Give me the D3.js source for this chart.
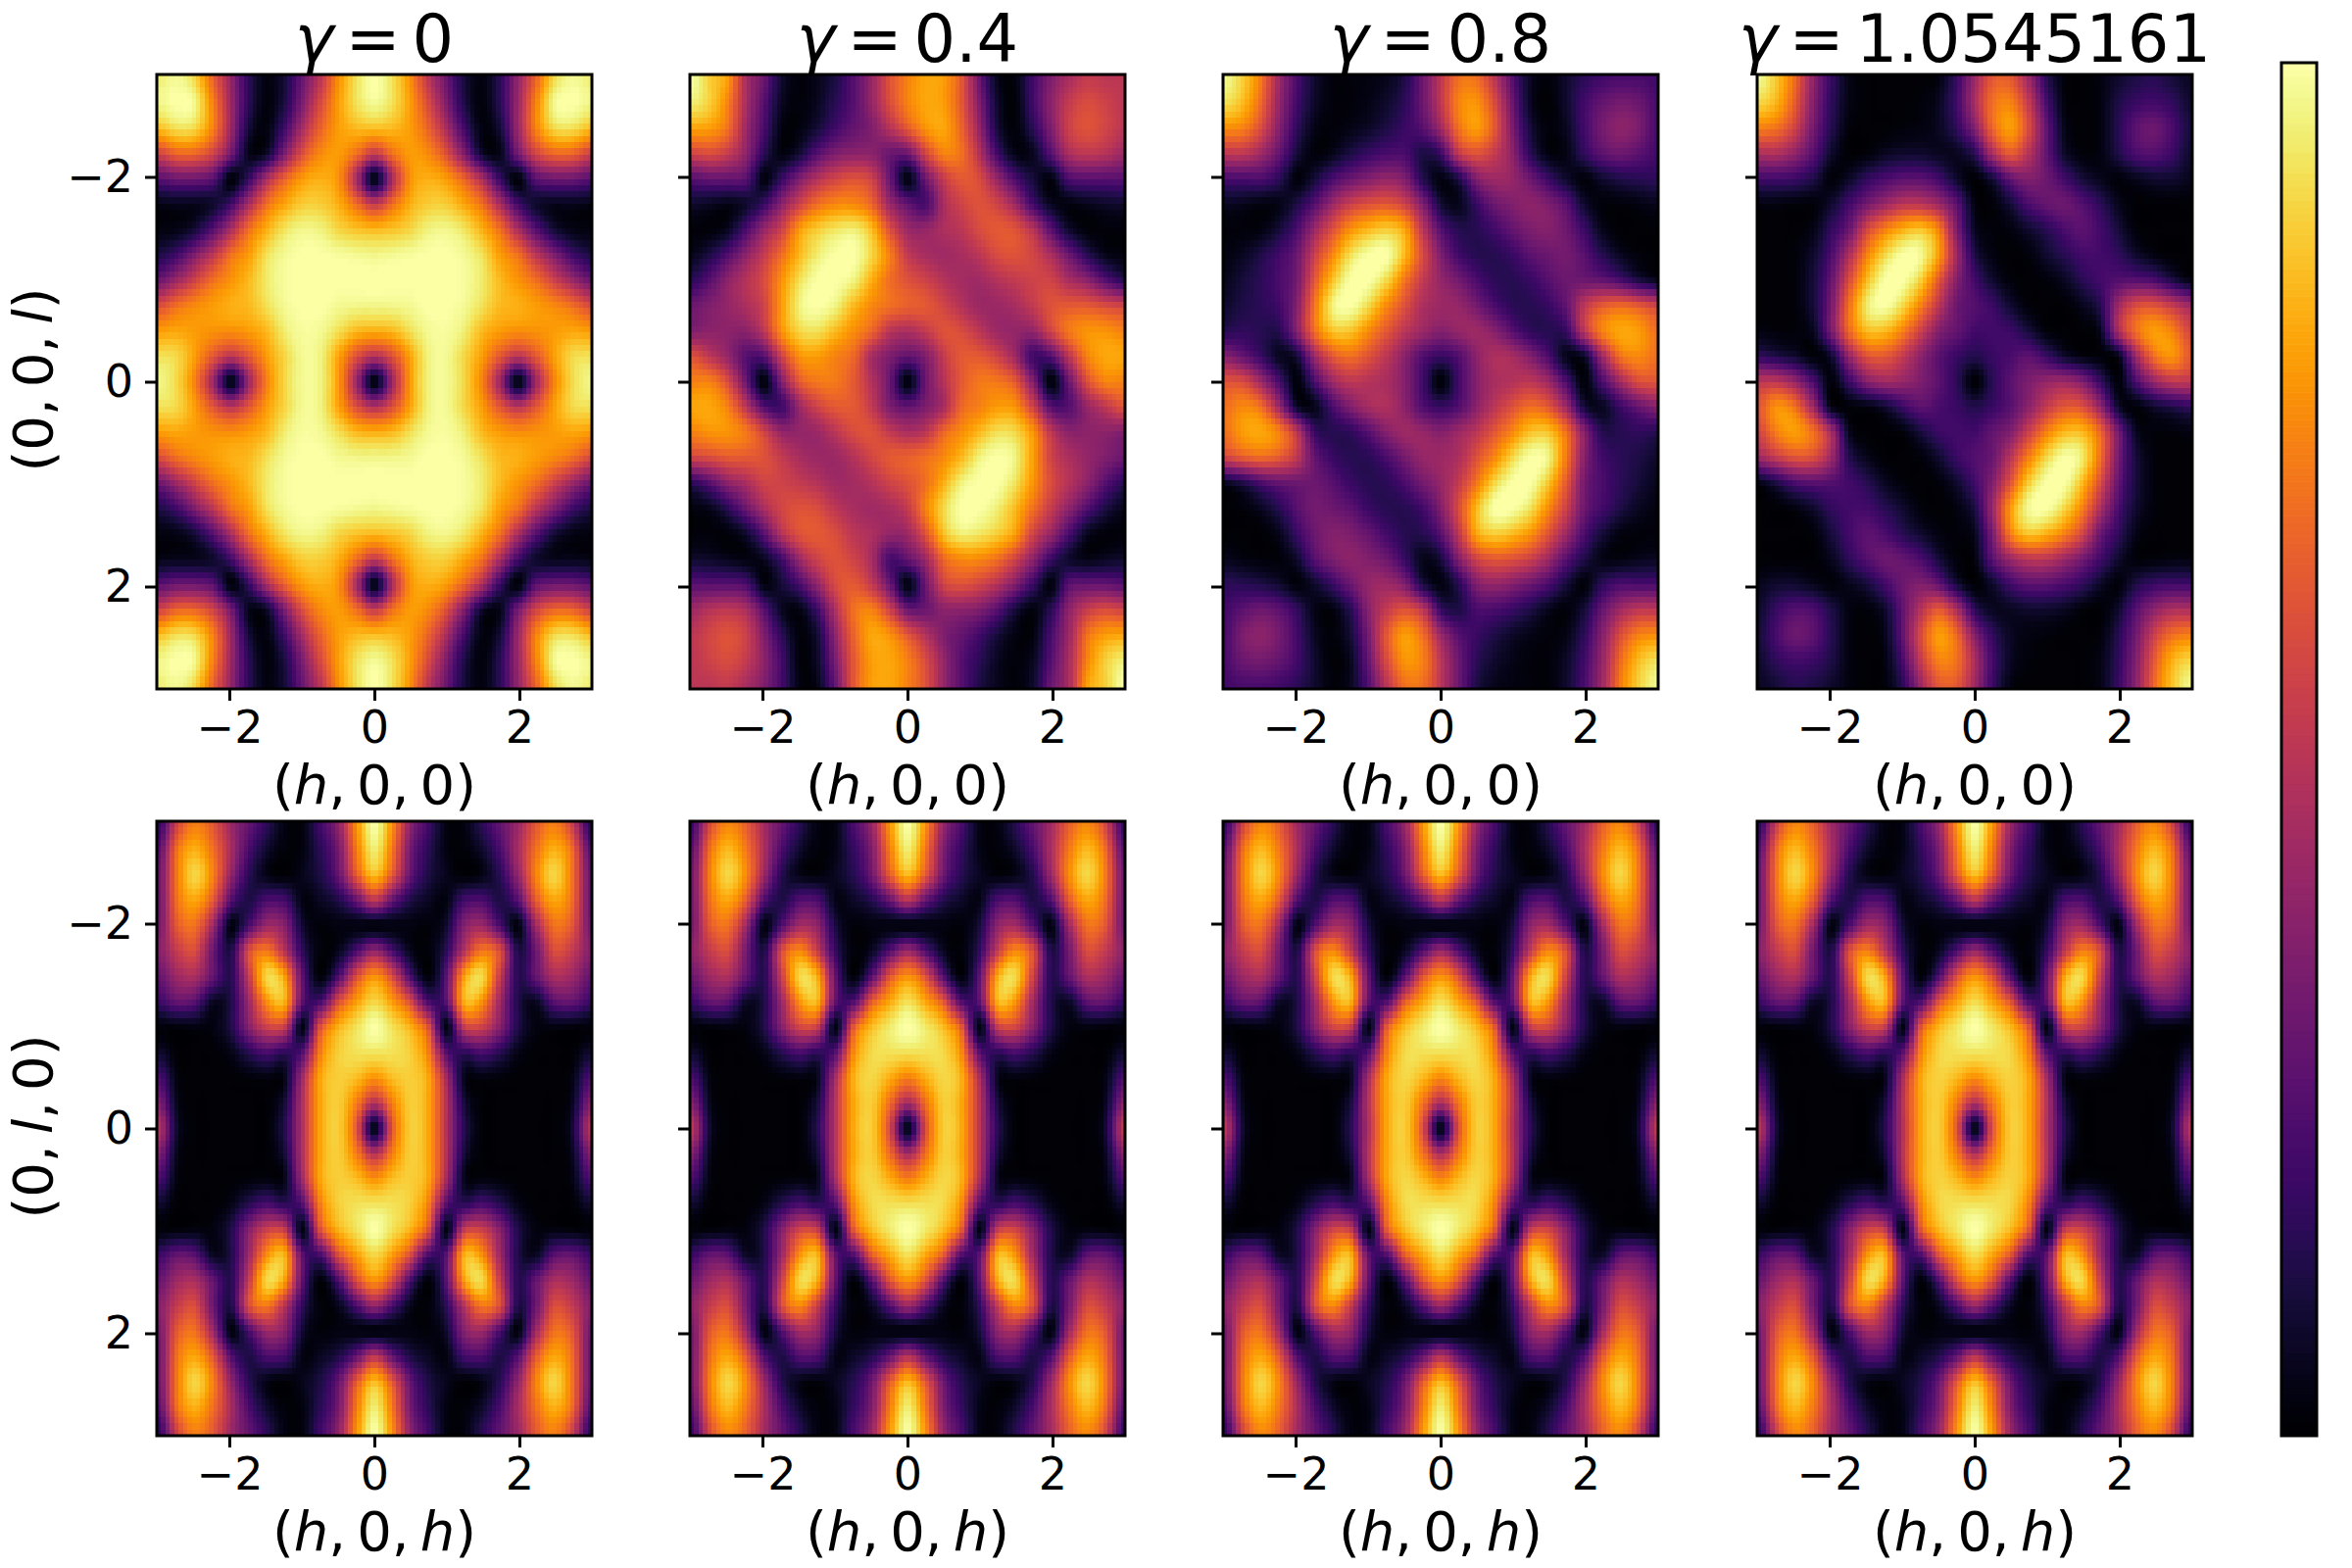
<!DOCTYPE html>
<html><head><meta charset="utf-8">
<script src="https://cdn.jsdelivr.net/npm/d3@7"></script>
<style>html,body{margin:0;background:#fff}svg{display:block}text{font-family:"DejaVu Sans";fill:#000}</style>
</head><body><svg id="fig" width="2400" height="1600"></svg>
<script>
const gammaLabels = ["0","0.4","0.8","1.0545161"];
const xLabelTop = "(h,0,0)";
const xLabelBottom = "(h,0,h)";
const yLabels = ["(0,0,l)","(0,l,0)"];
const tickValues = [-2,0,2];
const gridDomain = [-3,3];

const top0 = [
[95,98,90,65,40,15,3,10,30,50,75,92,100,92,75,50,30,10,3,15,40,65,90,98,95],
[97,100,97,72,42,15,2,12,35,58,78,92,98,92,78,58,35,12,2,15,42,72,97,100,97],
[85,92,90,72,42,10,3,20,45,65,78,84,85,84,78,65,45,20,3,10,42,72,90,92,85],
[55,65,65,55,32,5,8,35,60,74,78,68,52,68,78,74,60,35,8,5,32,55,65,65,55],
[25,30,30,25,2,18,45,65,78,82,76,45,3,45,76,82,78,65,45,18,2,25,30,30,25],
[4,5,5,8,20,45,68,80,88,88,82,68,52,68,82,88,88,80,68,45,20,8,5,5,4],
[3,4,10,25,45,68,82,93,97,96,90,86,84,86,90,96,97,93,82,68,45,25,10,4,3],
[12,20,35,50,68,78,92,98,100,100,99,98,97,98,99,100,100,98,92,78,68,50,35,20,12],
[30,42,55,68,76,84,94,99,100,100,100,100,100,100,100,100,100,99,94,84,76,68,55,42,30],
[58,68,74,78,82,84,92,98,100,100,98,97,97,97,98,100,100,98,92,84,82,78,74,68,58],
[78,80,78,76,75,78,84,95,99,98,92,84,82,84,92,98,99,95,84,78,75,76,78,80,78],
[92,90,78,62,50,62,78,90,98,96,80,60,48,60,80,96,98,90,78,62,50,62,78,90,92],
[97,90,72,42,3,42,72,90,98,96,78,42,2,42,78,96,98,90,72,42,3,42,72,90,97],
[92,90,78,62,50,62,78,90,98,96,80,60,48,60,80,96,98,90,78,62,50,62,78,90,92],
[78,80,78,76,75,78,84,95,99,98,92,84,82,84,92,98,99,95,84,78,75,76,78,80,78],
[58,68,74,78,82,84,92,98,100,100,98,97,97,97,98,100,100,98,92,84,82,78,74,68,58],
[30,42,55,68,76,84,94,99,100,100,100,100,100,100,100,100,100,99,94,84,76,68,55,42,30],
[12,20,35,50,68,78,92,98,100,100,99,98,97,98,99,100,100,98,92,78,68,50,35,20,12],
[3,4,10,25,45,68,82,93,97,96,90,86,84,86,90,96,97,93,82,68,45,25,10,4,3],
[4,5,5,8,20,45,68,80,88,88,82,68,52,68,82,88,88,80,68,45,20,8,5,5,4],
[25,30,30,25,2,18,45,65,78,82,76,45,3,45,76,82,78,65,45,18,2,25,30,30,25],
[55,65,65,55,32,5,8,35,60,74,78,68,52,68,78,74,60,35,8,5,32,55,65,65,55],
[85,92,90,72,42,10,3,20,45,65,78,84,85,84,78,65,45,20,3,10,42,72,90,92,85],
[97,100,97,72,42,15,2,12,35,58,78,92,98,92,78,58,35,12,2,15,42,72,97,100,97],
[95,98,90,65,40,15,3,10,30,50,75,92,100,92,75,50,30,10,3,15,40,65,90,98,95]];

const top1 = [
[100,88,78,45,30,8,2,5,12,25,40,60,72,80,78,62,30,5,3,20,35,45,52,50,50],
[95,88,72,45,25,6,2,6,15,25,40,58,72,80,78,62,35,8,2,20,38,52,58,55,50],
[80,78,68,42,22,3,3,10,20,28,35,48,62,76,80,65,40,10,2,15,35,54,60,56,50],
[55,58,52,38,15,3,10,25,35,38,38,30,30,55,72,68,48,20,4,6,25,45,50,48,42],
[25,28,28,25,3,18,35,48,56,60,55,30,3,30,52,62,58,40,22,10,3,22,25,25,25],
[8,6,4,8,18,38,55,68,74,74,66,42,28,22,45,55,60,55,42,20,6,3,5,7,8],
[2,2,6,22,40,55,78,88,93,95,85,60,42,40,46,50,58,62,60,48,25,8,2,2,2],
[5,12,24,38,52,68,84,95,100,100,90,72,52,45,43,45,50,58,60,56,45,30,15,5,3],
[15,25,38,48,58,76,92,100,100,96,82,68,60,55,48,44,43,48,52,55,55,45,38,25,15],
[30,35,40,46,55,78,96,100,96,84,74,68,64,62,56,48,42,42,45,52,60,62,62,58,55],
[35,38,38,38,50,76,90,92,84,75,66,50,46,52,60,58,50,42,40,40,56,70,76,76,72],
[60,50,40,25,25,55,76,78,72,66,45,35,28,35,52,62,62,55,42,20,25,50,72,80,80],
[72,72,58,30,2,35,62,70,70,62,48,30,2,30,48,62,70,70,62,35,2,30,58,72,72],
[80,80,72,50,25,20,42,55,62,62,52,35,28,35,45,66,72,78,76,55,25,25,40,50,60],
[72,76,76,70,56,40,40,42,50,58,60,52,46,50,66,75,84,92,90,76,50,38,38,38,35],
[55,58,62,62,60,52,45,42,42,48,56,62,64,68,74,84,96,100,96,78,55,46,40,35,30],
[15,25,38,45,55,55,52,48,43,44,48,55,60,68,82,96,100,100,92,76,58,48,38,25,15],
[3,5,15,30,45,56,60,58,50,45,43,45,52,72,90,100,100,95,84,68,52,38,24,12,5],
[2,2,2,8,25,48,60,62,58,50,46,40,42,60,85,95,93,88,78,55,40,22,6,2,2],
[8,7,5,3,6,20,42,55,60,55,45,22,28,42,66,74,74,68,55,38,18,8,4,6,8],
[25,25,25,22,3,10,22,40,58,62,52,30,3,30,55,60,56,48,35,18,3,25,28,28,25],
[42,48,50,45,25,6,4,20,48,68,72,55,30,30,38,38,35,25,10,3,15,38,52,58,55],
[50,56,60,54,35,15,2,10,40,65,80,76,62,48,35,28,20,10,3,3,22,42,68,78,80],
[50,55,58,52,38,20,2,8,35,62,78,80,72,58,40,25,15,6,2,6,25,45,72,88,95],
[50,50,52,45,35,20,3,5,30,62,78,80,72,60,40,25,12,5,2,8,30,45,78,88,100]];

const top2 = [
[98,88,70,42,22,8,2,2,3,5,12,30,50,68,68,50,25,6,2,8,15,20,22,22,20],
[92,84,66,40,20,7,2,2,4,8,15,30,50,72,76,58,30,6,1,8,20,28,32,30,22],
[75,72,58,36,16,4,2,4,7,12,18,25,42,68,78,62,34,10,2,6,20,32,38,34,22],
[50,50,42,28,10,2,5,12,18,22,22,12,18,50,60,52,38,15,3,4,16,26,30,26,20],
[22,22,22,15,2,10,22,30,36,40,35,14,3,12,35,42,40,30,18,8,2,8,12,14,15],
[6,5,3,4,12,25,42,54,60,62,55,35,10,5,18,30,35,38,34,25,8,2,2,3,5],
[2,2,3,10,22,42,60,76,84,88,80,50,25,14,14,20,28,34,36,30,18,5,1,1,1],
[3,6,12,20,30,54,74,92,100,100,84,58,35,20,14,14,18,26,30,32,25,14,6,2,1],
[5,10,15,22,32,62,86,100,100,90,70,52,40,32,22,15,14,18,25,30,30,28,22,12,6],
[8,12,15,20,36,70,96,100,90,74,60,46,42,40,32,22,15,14,18,28,50,62,66,62,55],
[14,16,14,14,36,68,86,86,74,62,50,42,36,40,42,36,25,16,14,18,50,72,80,78,68],
[36,28,18,6,10,42,62,68,60,50,38,24,18,24,38,46,44,35,22,5,8,42,68,74,68],
[60,58,42,22,2,22,42,50,48,45,36,20,1,20,36,45,48,50,42,22,2,22,42,58,60],
[68,74,68,42,8,5,22,35,44,46,38,24,18,24,38,50,60,68,62,42,10,6,18,28,36],
[68,78,80,72,50,18,14,16,25,36,42,40,36,42,50,62,74,86,86,68,36,14,14,16,14],
[55,62,66,62,50,28,18,14,15,22,32,40,42,46,60,74,90,100,96,70,36,20,15,12,8],
[6,12,22,28,30,30,25,18,14,15,22,32,40,52,70,90,100,100,86,62,32,22,15,10,5],
[1,2,6,14,25,32,30,26,18,14,14,20,35,58,84,100,100,92,74,54,30,20,12,6,3],
[1,1,1,5,18,30,36,34,28,20,14,14,25,50,80,88,84,76,60,42,22,10,3,2,2],
[5,3,2,2,8,25,34,38,35,30,18,5,10,35,55,62,60,54,42,25,12,4,3,5,6],
[15,14,12,8,2,8,18,30,40,42,35,12,3,14,35,40,36,30,22,10,2,15,22,22,22],
[20,26,30,26,16,4,3,15,38,52,60,50,18,12,22,22,18,12,5,2,10,28,42,50,50],
[22,34,38,32,20,6,2,10,34,62,78,68,42,25,18,12,7,4,2,4,16,36,58,72,75],
[22,30,32,28,20,8,1,6,30,58,76,72,50,30,15,8,4,2,2,7,20,40,66,84,92],
[20,22,22,20,15,8,2,6,25,50,68,68,50,30,12,5,3,2,2,8,22,42,70,88,98]];

const top3 = [
[98,86,66,38,18,4,1,1,1,1,3,18,42,62,62,42,15,2,1,3,8,12,14,10,6],
[90,82,62,36,16,4,1,1,1,2,6,20,45,68,72,52,22,3,1,3,12,18,20,16,8],
[72,68,54,32,14,2,1,1,2,3,6,16,36,66,78,58,28,5,1,3,14,26,30,22,10],
[46,46,38,25,8,1,2,6,8,8,6,6,15,45,62,48,28,8,2,3,12,22,24,18,8],
[20,20,18,12,2,7,16,22,26,26,20,8,1,10,28,35,30,20,10,5,2,5,8,8,5],
[3,3,2,2,8,20,32,42,50,50,42,26,3,2,10,22,28,30,24,15,5,1,1,1,1],
[1,1,1,4,16,30,56,72,82,86,72,34,6,2,3,8,14,22,26,20,10,2,1,1,1],
[1,1,2,8,22,46,72,90,100,98,78,42,12,3,1,2,8,14,20,20,16,8,3,1,1],
[1,1,2,10,28,58,84,100,100,88,62,36,20,8,2,1,2,6,14,20,24,25,22,12,4],
[1,1,2,10,32,68,94,100,90,72,50,30,24,18,8,2,1,1,5,14,42,58,60,52,42],
[3,2,2,6,32,66,84,84,72,54,36,28,20,20,18,10,2,1,1,6,45,68,78,72,56],
[16,12,8,2,8,40,60,62,52,38,26,18,13,18,22,26,18,8,3,2,5,42,68,76,62],
[50,50,40,22,2,18,35,42,40,34,26,15,1,15,26,34,40,42,35,18,2,22,40,50,50],
[62,76,68,42,5,2,3,8,18,26,22,18,13,18,26,38,52,62,60,40,8,2,8,12,16],
[56,72,78,68,45,6,1,1,2,10,18,20,20,28,36,54,72,84,84,66,32,6,2,2,3],
[42,52,60,58,42,14,5,1,1,2,8,18,24,30,50,72,90,100,94,68,32,10,2,1,1],
[4,12,22,25,24,20,14,6,2,1,2,8,20,36,62,88,100,100,84,58,28,10,2,1,1],
[1,1,3,8,16,20,20,14,8,2,1,3,12,42,78,98,100,90,72,46,22,8,2,1,1],
[1,1,1,2,10,20,26,22,14,8,3,2,6,34,72,86,82,72,56,30,16,4,1,1,1],
[1,1,1,1,5,15,24,30,28,22,10,2,3,26,42,50,50,42,32,20,8,2,2,3,3],
[5,8,8,5,2,5,10,20,30,35,28,10,1,8,20,26,26,22,16,7,2,12,18,20,20],
[8,18,24,22,12,3,2,8,28,48,62,45,15,6,6,8,8,6,2,1,8,25,38,46,46],
[10,22,30,26,14,3,1,5,28,58,78,66,36,16,6,3,2,1,1,2,14,32,54,68,72],
[8,16,20,18,12,3,1,3,22,52,72,68,45,20,6,2,1,1,1,4,16,36,62,82,90],
[6,10,14,12,8,3,1,2,15,42,62,62,42,18,3,1,1,1,1,4,18,38,66,86,98]];

const bottom0 = [
[15,55,72,62,42,28,15,3,3,20,38,75,100,75,38,20,3,3,15,28,42,62,72,55,15],
[25,68,82,68,45,22,8,2,3,15,32,70,95,70,32,15,3,2,8,22,45,68,82,68,25],
[30,70,90,72,40,15,4,1,5,12,28,62,85,62,28,12,5,1,4,15,40,72,90,70,30],
[30,68,80,62,25,12,22,20,3,6,12,28,50,28,12,6,3,20,22,12,25,62,80,68,30],
[32,62,68,42,3,22,42,36,8,2,3,3,2,3,3,2,8,36,42,22,3,42,68,62,32],
[36,52,58,30,12,58,70,48,15,2,5,22,40,22,5,2,15,48,70,58,12,30,58,52,36],
[28,42,45,28,14,52,90,78,25,2,22,58,76,58,22,2,25,78,90,52,14,28,45,42,28],
[18,28,25,6,12,42,75,82,25,22,58,78,90,78,58,22,25,82,75,42,12,6,25,28,18],
[2,2,3,3,12,36,54,52,3,60,82,92,100,92,82,60,3,52,54,36,12,3,3,2,2],
[8,1,1,1,4,14,22,16,25,72,88,92,93,92,88,72,25,16,22,14,4,1,1,1,8],
[22,3,1,1,1,2,3,5,44,80,88,85,76,85,88,80,44,5,3,2,1,1,1,3,22],
[35,5,1,1,1,1,1,10,48,80,88,72,48,72,88,80,48,10,1,1,1,1,1,5,35],
[48,8,1,1,1,1,1,14,48,80,88,62,3,62,88,80,48,14,1,1,1,1,1,8,48],
[35,5,1,1,1,1,1,10,48,80,88,72,48,72,88,80,48,10,1,1,1,1,1,5,35],
[22,3,1,1,1,2,3,5,44,80,88,85,76,85,88,80,44,5,3,2,1,1,1,3,22],
[8,1,1,1,4,14,22,16,25,72,88,92,93,92,88,72,25,16,22,14,4,1,1,1,8],
[2,2,3,3,12,36,54,52,3,60,82,92,100,92,82,60,3,52,54,36,12,3,3,2,2],
[18,28,25,6,12,42,75,82,25,22,58,78,90,78,58,22,25,82,75,42,12,6,25,28,18],
[28,42,45,28,14,52,90,78,25,2,22,58,76,58,22,2,25,78,90,52,14,28,45,42,28],
[36,52,58,30,12,58,70,48,15,2,5,22,40,22,5,2,15,48,70,58,12,30,58,52,36],
[32,62,68,42,3,22,42,36,8,2,3,3,2,3,3,2,8,36,42,22,3,42,68,62,32],
[30,68,80,62,25,12,22,20,3,6,12,28,50,28,12,6,3,20,22,12,25,62,80,68,30],
[30,70,90,72,40,15,4,1,5,12,28,62,85,62,28,12,5,1,4,15,40,72,90,70,30],
[25,68,82,68,45,22,8,2,3,15,32,70,95,70,32,15,3,2,8,22,45,68,82,68,25],
[15,55,72,62,42,28,15,3,3,20,38,75,100,75,38,20,3,3,15,28,42,62,72,55,15]];

const bottom1 = [
[18,58,74,64,44,28,14,3,4,22,40,76,100,76,40,22,4,3,14,28,44,64,74,58,18],
[26,68,84,70,46,22,8,2,4,17,34,70,95,70,34,17,4,2,8,22,46,70,84,68,26],
[32,72,90,74,42,14,4,2,6,14,30,62,84,62,30,14,6,2,4,14,42,74,90,72,32],
[32,68,80,62,24,12,24,22,4,7,13,28,48,28,13,7,4,22,24,12,24,62,80,68,32],
[32,62,68,42,3,24,44,38,10,2,3,3,2,3,3,2,10,38,44,24,3,42,68,62,32],
[38,52,58,32,12,58,74,52,16,2,6,24,42,24,6,2,16,52,74,58,12,32,58,52,38],
[30,42,46,28,14,54,90,80,26,2,24,60,76,60,24,2,26,80,90,54,14,28,46,42,30],
[18,28,26,7,12,42,76,82,26,24,62,80,92,80,62,24,26,82,76,42,12,7,26,28,18],
[2,2,3,3,12,36,56,52,3,62,84,94,100,94,84,62,3,52,56,36,12,3,3,2,2],
[8,1,1,1,4,14,22,16,26,74,90,92,92,92,90,74,26,16,22,14,4,1,1,1,8],
[22,3,1,1,1,2,3,6,46,82,90,82,72,82,90,82,46,6,3,2,1,1,1,3,22],
[36,5,1,1,1,1,1,11,50,80,88,68,44,68,88,80,50,11,1,1,1,1,1,5,36],
[50,8,1,1,1,1,1,15,50,81,88,58,3,58,88,81,50,15,1,1,1,1,1,8,50],
[36,5,1,1,1,1,1,11,50,80,88,68,44,68,88,80,50,11,1,1,1,1,1,5,36],
[22,3,1,1,1,2,3,6,46,82,90,82,72,82,90,82,46,6,3,2,1,1,1,3,22],
[8,1,1,1,4,14,22,16,26,74,90,92,92,92,90,74,26,16,22,14,4,1,1,1,8],
[2,2,3,3,12,36,56,52,3,62,84,94,100,94,84,62,3,52,56,36,12,3,3,2,2],
[18,28,26,7,12,42,76,82,26,24,62,80,92,80,62,24,26,82,76,42,12,7,26,28,18],
[30,42,46,28,14,54,90,80,26,2,24,60,76,60,24,2,26,80,90,54,14,28,46,42,30],
[38,52,58,32,12,58,74,52,16,2,6,24,42,24,6,2,16,52,74,58,12,32,58,52,38],
[32,62,68,42,3,24,44,38,10,2,3,3,2,3,3,2,10,38,44,24,3,42,68,62,32],
[32,68,80,62,24,12,24,22,4,7,13,28,48,28,13,7,4,22,24,12,24,62,80,68,32],
[32,72,90,74,42,14,4,2,6,14,30,62,84,62,30,14,6,2,4,14,42,74,90,72,32],
[26,68,84,70,46,22,8,2,4,17,34,70,95,70,34,17,4,2,8,22,46,70,84,68,26],
[18,58,74,64,44,28,14,3,4,22,40,76,100,76,40,22,4,3,14,28,44,64,74,58,18]];

const bottom2 = [
[16,56,74,64,43,28,14,3,4,21,40,76,100,76,40,21,4,3,14,28,43,64,74,56,16],
[26,68,84,70,46,22,8,2,4,16,34,70,95,70,34,16,4,2,8,22,46,70,84,68,26],
[31,71,90,73,41,14,4,2,6,13,29,62,84,62,29,13,6,2,4,14,41,73,90,71,31],
[31,68,80,62,24,12,24,22,4,7,13,28,48,28,13,7,4,22,24,12,24,62,80,68,31],
[32,62,68,42,3,24,44,38,10,2,3,3,2,3,3,2,10,38,44,24,3,42,68,62,32],
[38,52,58,32,12,58,74,52,16,2,6,24,42,24,6,2,16,52,74,58,12,32,58,52,38],
[30,42,46,28,14,54,90,80,26,2,24,60,76,60,24,2,26,80,90,54,14,28,46,42,30],
[18,28,26,7,12,42,76,82,26,24,62,80,92,80,62,24,26,82,76,42,12,7,26,28,18],
[2,2,3,3,12,36,56,52,3,62,84,94,100,94,84,62,3,52,56,36,12,3,3,2,2],
[8,1,1,1,4,14,22,16,26,72,90,92,92,92,90,72,26,16,22,14,4,1,1,1,8],
[22,3,1,1,1,2,3,6,46,80,90,84,74,84,90,80,46,6,3,2,1,1,1,3,22],
[36,5,1,1,1,1,1,11,50,80,88,70,46,70,88,80,50,11,1,1,1,1,1,5,36],
[50,8,1,1,1,1,1,15,48,80,88,60,3,60,88,80,48,15,1,1,1,1,1,8,50],
[36,5,1,1,1,1,1,11,50,80,88,70,46,70,88,80,50,11,1,1,1,1,1,5,36],
[22,3,1,1,1,2,3,6,46,80,90,84,74,84,90,80,46,6,3,2,1,1,1,3,22],
[8,1,1,1,4,14,22,16,26,72,90,92,92,92,90,72,26,16,22,14,4,1,1,1,8],
[2,2,3,3,12,36,56,52,3,62,84,94,100,94,84,62,3,52,56,36,12,3,3,2,2],
[18,28,26,7,12,42,76,82,26,24,62,80,92,80,62,24,26,82,76,42,12,7,26,28,18],
[30,42,46,28,14,54,90,80,26,2,24,60,76,60,24,2,26,80,90,54,14,28,46,42,30],
[38,52,58,32,12,58,74,52,16,2,6,24,42,24,6,2,16,52,74,58,12,32,58,52,38],
[32,62,68,42,3,24,44,38,10,2,3,3,2,3,3,2,10,38,44,24,3,42,68,62,32],
[31,68,80,62,24,12,24,22,4,7,13,28,48,28,13,7,4,22,24,12,24,62,80,68,31],
[31,71,90,73,41,14,4,2,6,13,29,62,84,62,29,13,6,2,4,14,41,73,90,71,31],
[26,68,84,70,46,22,8,2,4,16,34,70,95,70,34,16,4,2,8,22,46,70,84,68,26],
[16,56,74,64,43,28,14,3,4,21,40,76,100,76,40,21,4,3,14,28,43,64,74,56,16]];

const bottom3 = [
[15,56,74,64,43,28,14,3,4,21,40,76,100,76,40,21,4,3,14,28,43,64,74,56,15],
[25,68,84,70,46,22,8,2,4,16,34,70,95,70,34,16,4,2,8,22,46,70,84,68,25],
[30,71,90,73,41,14,4,2,6,13,29,62,85,62,29,13,6,2,4,14,41,73,90,71,30],
[30,68,80,62,24,12,23,21,4,7,13,28,49,28,13,7,4,21,23,12,24,62,80,68,30],
[32,62,68,42,3,23,43,37,9,2,3,3,2,3,3,2,9,37,43,23,3,42,68,62,32],
[37,52,58,31,12,58,72,50,16,2,6,23,41,23,6,2,16,50,72,58,12,31,58,52,37],
[29,42,46,28,14,53,90,79,26,2,23,59,76,59,23,2,26,79,90,53,14,28,46,42,29],
[18,28,26,7,12,42,76,82,26,23,60,79,91,79,60,23,26,82,76,42,12,7,26,28,18],
[2,2,3,3,12,36,55,52,3,61,83,93,100,93,83,61,3,52,55,36,12,3,3,2,2],
[8,1,1,1,4,14,22,16,26,72,89,92,93,92,89,72,26,16,22,14,4,1,1,1,8],
[22,3,1,1,1,2,3,5,45,80,89,84,75,84,89,80,45,5,3,2,1,1,1,3,22],
[36,5,1,1,1,1,1,10,49,80,88,71,47,71,88,80,49,10,1,1,1,1,1,5,36],
[49,8,1,1,1,1,1,14,48,80,88,61,3,61,88,80,48,14,1,1,1,1,1,8,49],
[36,5,1,1,1,1,1,10,49,80,88,71,47,71,88,80,49,10,1,1,1,1,1,5,36],
[22,3,1,1,1,2,3,5,45,80,89,84,75,84,89,80,45,5,3,2,1,1,1,3,22],
[8,1,1,1,4,14,22,16,26,72,89,92,93,92,89,72,26,16,22,14,4,1,1,1,8],
[2,2,3,3,12,36,55,52,3,61,83,93,100,93,83,61,3,52,55,36,12,3,3,2,2],
[18,28,26,7,12,42,76,82,26,23,60,79,91,79,60,23,26,82,76,42,12,7,26,28,18],
[29,42,46,28,14,53,90,79,26,2,23,59,76,59,23,2,26,79,90,53,14,28,46,42,29],
[37,52,58,31,12,58,72,50,16,2,6,23,41,23,6,2,16,50,72,58,12,31,58,52,37],
[32,62,68,42,3,23,43,37,9,2,3,3,2,3,3,2,9,37,43,23,3,42,68,62,32],
[30,68,80,62,24,12,23,21,4,7,13,28,49,28,13,7,4,21,23,12,24,62,80,68,30],
[30,71,90,73,41,14,4,2,6,13,29,62,85,62,29,13,6,2,4,14,41,73,90,71,30],
[25,68,84,70,46,22,8,2,4,16,34,70,95,70,34,16,4,2,8,22,46,70,84,68,25],
[15,56,74,64,43,28,14,3,4,21,40,76,100,76,40,21,4,3,14,28,43,64,74,56,15]];

const panelLefts = [160,704,1248,1793];
const panelWidth = 444;
const rowTops = [76,838];
const panelHeight = 627;
const color = d3.scaleSequential(d3.interpolateInferno).domain([0,100]).clamp(true);
const svg = d3.select("#fig");
const RES = 100;

// display-only resampling of the read grid into image cells (like imshow's bicubic)
function cr(p0,p1,p2,p3,t){
  return 0.5*((2*p1)+(-p0+p2)*t+(2*p0-5*p1+4*p2-p3)*t*t+(-p0+3*p1-3*p2+p3)*t*t*t);
}
function sample(rows,u,v){
  const n=rows.length, iu=Math.min(n-2,Math.floor(u)), iv=Math.min(n-2,Math.floor(v));
  const tu=u-iu, tv=v-iv, c=i=>Math.max(0,Math.min(n-1,i)), col=[];
  for(let j=-1;j<=2;j++){ const r=rows[c(iv+j)];
    col.push(cr(r[c(iu-1)],r[c(iu)],r[c(iu+1)],r[c(iu+2)],tu)); }
  return cr(col[0],col[1],col[2],col[3],tv);
}
function heatImage(rows){
  const n=rows.length, cv=document.createElement("canvas"); cv.width=cv.height=RES;
  const cx=cv.getContext("2d"), img=cx.createImageData(RES,RES);
  for(let r=0;r<RES;r++)for(let c=0;c<RES;c++){
    const q=d3.rgb(color(sample(rows,c/(RES-1)*(n-1),r/(RES-1)*(n-1)))), k=(r*RES+c)*4;
    img.data[k]=q.r; img.data[k+1]=q.g; img.data[k+2]=q.b; img.data[k+3]=255;
  }
  cx.putImageData(img,0,0);
  return cv.toDataURL();
}
function mathText(t,str){
  [...str].forEach((ch,i)=>{
    const s=t.append("tspan").text(ch);
    if(/[a-zγ]/.test(ch)) s.attr("font-style","italic");
    if(i>0 && str[i-1]===",") s.attr("dx",11);
  });
}
function drawPanel(rows,left,top,showY,xText,gammaText,yText){
  const x = d3.scaleLinear().domain(gridDomain).range([left,left+panelWidth]);
  const y = d3.scaleLinear().domain(gridDomain).range([top,top+panelHeight]);
  svg.append("image").attr("href",heatImage(rows))
    .attr("x",x(-3)).attr("y",y(-3)).attr("width",x(3)-x(-3)).attr("height",y(3)-y(-3))
    .attr("preserveAspectRatio","none").style("image-rendering","pixelated");
  const gx = svg.append("g").attr("transform",`translate(0,${y(3)})`)
    .call(d3.axisBottom(x).tickValues(tickValues).tickFormat(d3.format("d")).tickSize(12).tickPadding(10).tickSizeOuter(0));
  const gy = svg.append("g").attr("transform",`translate(${x(-3)},0)`)
    .call(d3.axisLeft(y).tickValues(tickValues).tickSize(12).tickPadding(12).tickSizeOuter(0)
      .tickFormat(showY ? d3.format("d") : ""));
  [gx,gy].forEach(g=>{
    g.select(".domain").remove();
    g.selectAll("line").attr("stroke","#000").attr("stroke-width",3);
    g.selectAll("text").attr("font-family","DejaVu Sans").attr("font-size",46).attr("fill","#000");
  });
  svg.append("rect").attr("x",x(-3)).attr("y",y(-3)).attr("width",x(3)-x(-3)).attr("height",y(3)-y(-3))
    .attr("fill","none").attr("stroke","#000").attr("stroke-width",3);
  mathText(svg.append("text").attr("x",x(0)).attr("y",y(3)+117).attr("text-anchor","middle").attr("font-size",56),xText);
  if(gammaText!==null){
    const t = svg.append("text").attr("x",x(0)).attr("y",63).attr("text-anchor","middle").attr("font-size",67);
    t.append("tspan").attr("font-style","italic").text("γ");
    t.append("tspan").attr("dx",12).text("=");
    t.append("tspan").attr("dx",12).text(gammaText);
  }
  if(yText){
    mathText(svg.append("text").attr("transform",`translate(53,${y(0)-2}) rotate(-90)`)
      .attr("text-anchor","middle").attr("font-size",56),yText);
  }
}

[top0,top1,top2,top3].forEach((rows,i)=>drawPanel(rows,panelLefts[i],rowTops[0],i===0,xLabelTop,gammaLabels[i],i===0?yLabels[0]:null));
[bottom0,bottom1,bottom2,bottom3].forEach((rows,i)=>drawPanel(rows,panelLefts[i],rowTops[1],i===0,xLabelBottom,null,i===0?yLabels[1]:null));

// colour bar
const cbX=2328, cbW=36, cbTop=64, cbBottom=1465;
const cbScale = d3.scaleLinear().domain([0,100]).range([cbBottom,cbTop]);
const cbLevels = d3.range(0,100,0.5);
svg.append("g").selectAll("rect").data(cbLevels).join("rect")
  .attr("x",cbX).attr("width",cbW)
  .attr("y",d=>cbScale(d+0.5))
  .attr("height",d=>cbScale(d)-cbScale(d+0.5)+(d>0?0.6:0))
  .attr("fill",d=>color(d+0.25));
svg.append("rect").attr("x",cbX).attr("y",cbTop).attr("width",cbW).attr("height",cbBottom-cbTop)
  .attr("fill","none").attr("stroke","#000").attr("stroke-width",3);
</script></body></html>
